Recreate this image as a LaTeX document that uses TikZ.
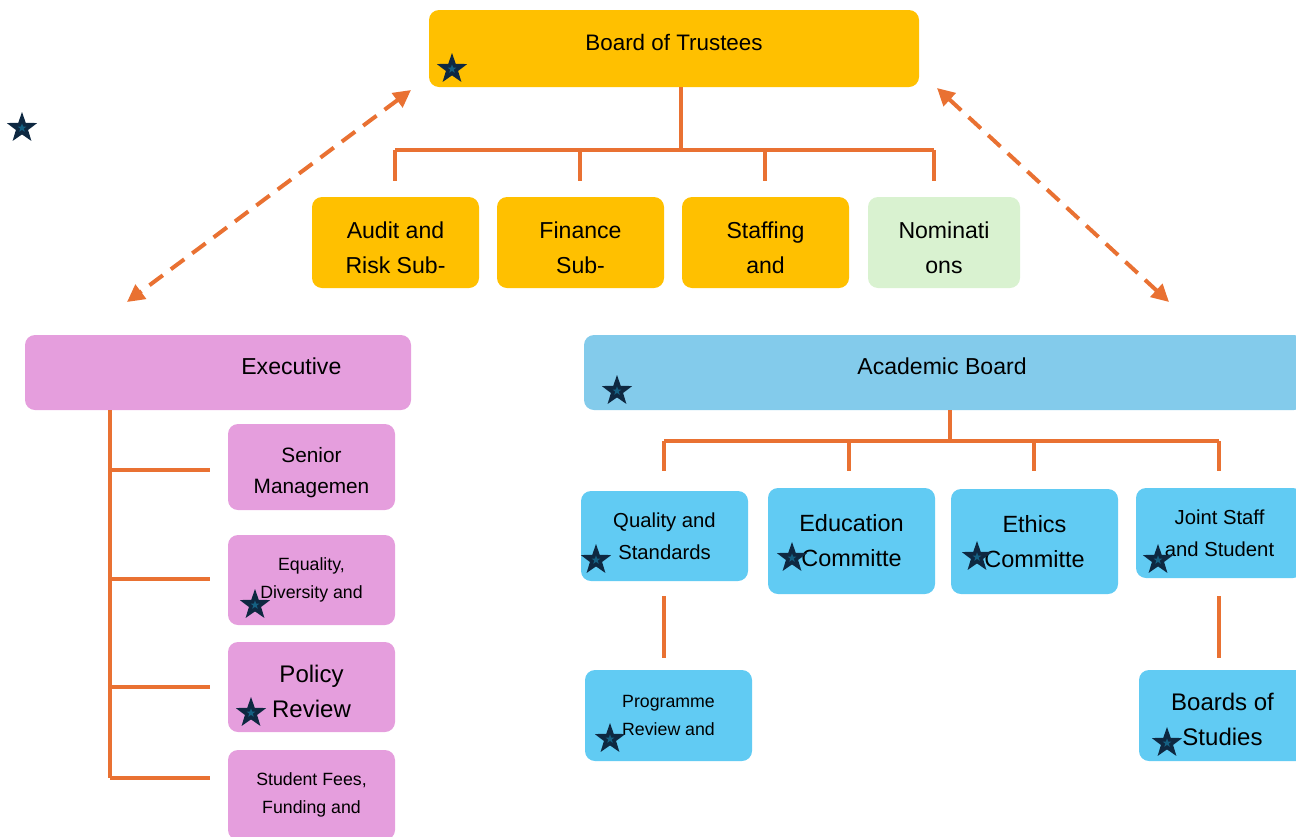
\documentclass[tikz,border=0pt]{standalone}
\usepackage{fontspec}
\setmainfont{Liberation Sans}
\usetikzlibrary{shapes.geometric,arrows.meta}
\definecolor{gold}{HTML}{FFC000}
\definecolor{mint}{HTML}{D9F2D0}
\definecolor{pinkbox}{HTML}{E59EDD}
\definecolor{acad}{HTML}{83CBEB}
\definecolor{skyb}{HTML}{61CBF3}
\definecolor{orng}{HTML}{E97132}
\definecolor{navy}{HTML}{0E2841}
\definecolor{starblue}{HTML}{156082}
\tikzset{
  box/.style={draw=none, rounded corners=7.5pt, inner sep=0pt, align=center, text=black},
  conn/.style={draw=orng, line width=2.3pt},
  dasharrow/.style={draw=orng, line width=3pt, dash pattern=on 12.5pt off 7.5pt,
    {Triangle[length=13pt,width=13pt]}-{Triangle[length=13pt,width=13pt]}},
  mystar/.pic={
    \node[star, star points=5, star point ratio=2.5, fill=navy, minimum size=24pt, inner sep=0pt] (-o) {};
    \node[star, star points=5, star point ratio=2.5, fill=starblue, minimum size=7pt, inner sep=0pt] (-i) {};
  }
}
\newcommand{\fsz}[2]{\fontsize{#1}{#2}\selectfont}
\newcommand{\shiftbox}[2]{\raisebox{#1}[\height][\depth]{#2}}
\newcommand{\twoline}[3]{\raisebox{#1}[\height][\depth]{\begin{tabular}{@{}c@{}}#2\\#3\end{tabular}}}
\begin{document}
\begin{tikzpicture}[x=0.75pt,y=-0.75pt]
\useasboundingbox (0,0) rectangle (1296,836);
\clip (0,0) rectangle (1296,836);

% top board
\node[box, fill=gold, minimum width=490*0.75pt, minimum height=77*0.75pt, font=\fsz{16.8}{20}] (board) at (674,48.5) {\shiftbox{4.6pt}{Board of Trustees}};

% committees
\node[box, fill=gold, minimum width=167*0.75pt, minimum height=91*0.75pt, font=\fsz{17.3}{26.25}] (audit) at (395.5,242.5) {\twoline{-4.5pt}{Audit and}{Risk Sub-}};
\node[box, fill=gold, minimum width=167*0.75pt, minimum height=91*0.75pt, font=\fsz{17.3}{26.25}] (finance) at (580.5,242.5) {\twoline{-4.5pt}{Finance}{Sub-}};
\node[box, fill=gold, minimum width=167*0.75pt, minimum height=91*0.75pt, font=\fsz{17.3}{26.25}] (staffing) at (765.5,242.5) {\twoline{-4.5pt}{Staffing}{and}};
\node[box, fill=mint, minimum width=152*0.75pt, minimum height=91*0.75pt, font=\fsz{17.3}{26.25}] (nomin) at (944,242.5) {\twoline{-4.5pt}{Nominati}{ons}};

% executive
\node[box, fill=pinkbox, minimum width=386*0.75pt, minimum height=75*0.75pt, font=\fsz{17.3}{20}] (exec) at (218,372.5) {\hspace*{110pt}\shiftbox{5pt}{Executive}};
\node[box, fill=pinkbox, minimum width=167*0.75pt, minimum height=86*0.75pt, font=\fsz{15.6}{23.25}] (senior) at (311.5,467) {\twoline{-3.8pt}{Senior}{Managemen}};
\node[box, fill=pinkbox, minimum width=167*0.75pt, minimum height=90*0.75pt, font=\fsz{13.3}{21}] (equal) at (311.5,580) {Equality,\\Diversity and};
\node[box, fill=pinkbox, minimum width=167*0.75pt, minimum height=90*0.75pt, font=\fsz{18}{26.25}] (policy) at (311.5,687) {\twoline{-4.5pt}{Policy}{Review}};
\node[box, fill=pinkbox, minimum width=167*0.75pt, minimum height=90*0.75pt, font=\fsz{13.3}{21}] (fees) at (311.5,795) {Student Fees,\\Funding and};

% academic
\node[box, fill=acad, minimum width=720*0.75pt, minimum height=75*0.75pt, font=\fsz{17.3}{20}] (acad) at (944,372.5) {\hspace*{-3pt}\shiftbox{5pt}{Academic Board}};
\node[box, fill=skyb, minimum width=167*0.75pt, minimum height=90*0.75pt, font=\fsz{15.2}{24}] (quality) at (664.5,536) {Quality and\\Standards};
\node[box, fill=skyb, minimum width=167*0.75pt, minimum height=106*0.75pt, font=\fsz{17.6}{26.25}] (educ) at (851.5,541) {Education\\Committe};
\node[box, fill=skyb, minimum width=167*0.75pt, minimum height=105*0.75pt, font=\fsz{17.6}{26.25}] (ethics) at (1034.5,541.5) {Ethics\\Committe};
\node[box, fill=skyb, minimum width=167*0.75pt, minimum height=90*0.75pt, font=\fsz{15.2}{24}] (joint) at (1219.5,533) {Joint Staff\\and Student};
\node[box, fill=skyb, minimum width=167*0.75pt, minimum height=91*0.75pt, font=\fsz{13.3}{21}] (prog) at (668.5,715.5) {Programme\\Review and};
\node[box, fill=skyb, minimum width=167*0.75pt, minimum height=91*0.75pt, font=\fsz{18}{26.25}] (bos) at (1222.5,715.5) {\twoline{-4.2pt}{Boards of}{Studies}};

% connectors: board
\coordinate (tj) at (681,150);
\coordinate (hl) at (395,150);
\coordinate (hr) at (934,150);
\coordinate (tA) at (395,181);
\coordinate (tF) at (580,181);
\coordinate (tS) at (765,181);
\coordinate (tN) at (934,181);
\draw[conn] (board.south -| tj) -- (tj);
\draw[conn] (hl) -- (hr);
\draw[conn] (tA |- tj) -- (tA);
\draw[conn] (tF |- tj) -- (tF);
\draw[conn] (tS |- tj) -- (tS);
\draw[conn] (tN |- tj) -- (tN);

% connectors: executive
\coordinate (ev) at (110,778);
\coordinate (e1) at (210,470);
\coordinate (e2) at (210,579);
\coordinate (e3) at (210,687);
\coordinate (e4) at (210,778);
\draw[conn] (exec.south -| ev) -- (ev);
\draw[conn] (e1 -| ev) -- (e1);
\draw[conn] (e2 -| ev) -- (e2);
\draw[conn] (e3 -| ev) -- (e3);
\draw[conn] (ev) -- (e4);

% connectors: academic
\coordinate (aj) at (950,441);
\coordinate (al) at (664,441);
\coordinate (ar) at (1219,441);
\coordinate (a1) at (664,471);
\coordinate (a2) at (849,471);
\coordinate (a3) at (1034,471);
\coordinate (a4) at (1219,471);
\draw[conn] (acad.south -| aj) -- (aj);
\draw[conn] (al) -- (ar);
\draw[conn] (al) -- (a1);
\draw[conn] (a2 |- aj) -- (a2);
\draw[conn] (a3 |- aj) -- (a3);
\draw[conn] (ar) -- (a4);
\coordinate (q1) at (664,596);
\coordinate (q2) at (664,658);
\coordinate (j1) at (1219,596);
\coordinate (j2) at (1219,658);
\draw[conn] (q1) -- (q2);
\draw[conn] (j1) -- (j2);

% dashed arrows
\coordinate (dl1) at (411,90);
\coordinate (dl2) at (127,302);
\coordinate (dr1) at (937,88);
\coordinate (dr2) at (1169,302);
\draw[dasharrow] (dl1) -- (dl2);
\draw[dasharrow] (dr1) -- (dr2);

% stars
\pic (s0) at (22,128) {mystar};
\pic (s1) at (452,69) {mystar};
\pic (s2) at (617,391) {mystar};
\pic (s3) at (596,560) {mystar};
\pic (s4) at (792,558) {mystar};
\pic (s5) at (977,557) {mystar};
\pic (s6) at (1158,560) {mystar};
\pic (s7) at (255,605) {mystar};
\pic (s8) at (251,713) {mystar};
\pic (s9) at (610,739) {mystar};
\pic (s10) at (1167,743) {mystar};
\end{tikzpicture}
\end{document}
